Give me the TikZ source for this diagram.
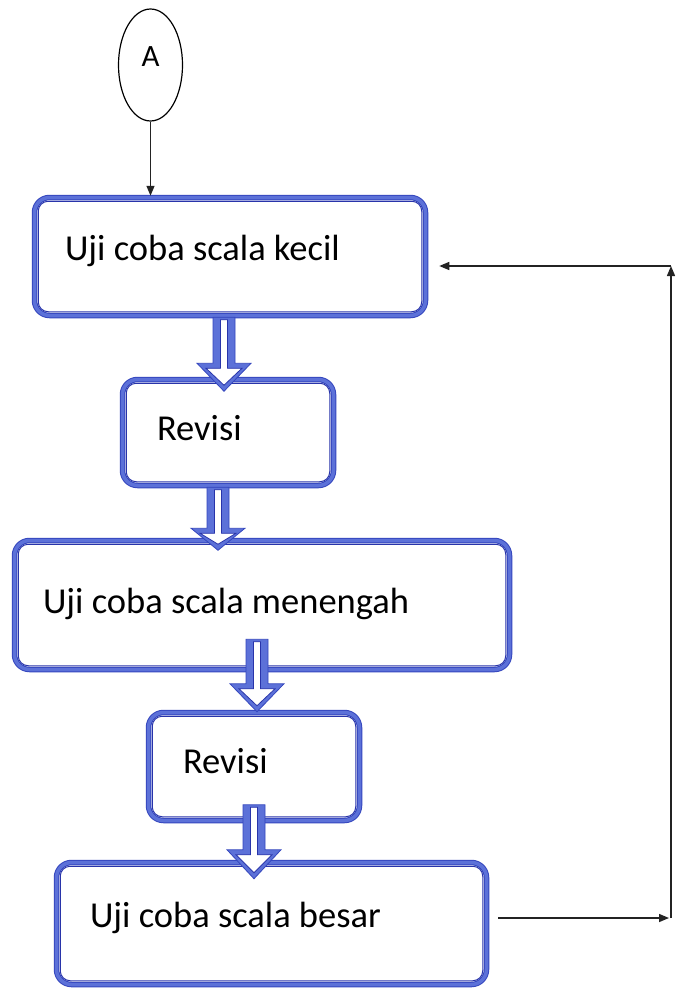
\documentclass[tikz,border=0pt]{standalone}
\usepackage{fontspec}
\setmainfont{Carlito}
\usetikzlibrary{shapes.geometric,arrows.meta,calc}
\definecolor{bandblue}{RGB}{92,113,216}
\definecolor{edgeblue}{RGB}{52,70,190}
\definecolor{innerblue}{RGB}{40,52,170}
\definecolor{conncol}{RGB}{35,35,35}
\newcommand\innerframe[1]{%
  \draw[innerline] ([shift={(5.5,5.5)}]#1.north west) rectangle ([shift={(-5.5,-5.5)}]#1.south east);}
\newcommand\blockarrow[3]{% #1 start coordinate, #2 shaft length, #3 head length
  \begin{scope}[shift={(#1)}]
    \filldraw[barrow] (-11,0) -- (-11,#2) -- (-27,#2) -- (0,#2+#3) -- (27,#2) -- (11,#2) -- (11,0) -- cycle;
    \filldraw[barrowin] (-3.5,2.5) -- (-3.5,#2+5) -- (-18,#2+5) -- (0,#2+#3-6) -- (18,#2+5) -- (3.5,#2+5) -- (3.5,2.5) -- cycle;
  \end{scope}}
\newcommand\boxtext[2]{\makebox[#1][l]{#2}}
\begin{document}
\begin{tikzpicture}[x=1pt,y=-1pt,
  box/.style={draw=bandblue, line width=3.5pt, preaction={draw=edgeblue, line width=5.5pt},
    rounded corners=15pt, font=\fontsize{36.5}{40}\selectfont, text depth=14pt, inner ysep=0pt},
  innerline/.style={draw=innerblue, line width=1pt, rounded corners=10pt},
  barrow/.style={fill=bandblue, draw=edgeblue, line width=0.8pt},
  barrowin/.style={fill=white, draw=innerblue, line width=0.8pt},
  conn/.style={draw=conncol, line width=1.4pt, -{Triangle[length=10pt,width=8pt]}},
  term/.style={ellipse, draw=black, line width=1.2pt, minimum width=64pt, minimum height=112pt,
    inner sep=0pt, font=\fontsize{31}{33}\selectfont, text height=21pt, text depth=19pt}]
\useasboundingbox (0,0) rectangle (675,991);
\fill[white] (0,0) rectangle (675,991);

\node[term] (A) at (150.5,65) {A};

\node[box, minimum width=391pt, minimum height=118pt, inner xsep=30.5pt, text height=21pt]
  (b1) at (230,256.5) {\boxtext{330pt}{Uji coba scala kecil}};
\node[box, minimum width=211pt, minimum height=106pt, inner xsep=34.5pt, text height=29pt]
  (r1) at (228,432.5) {\boxtext{142pt}{Revisi}};
\node[box, minimum width=495pt, minimum height=129pt, inner xsep=28.5pt, text height=30pt]
  (b3) at (262,605) {\boxtext{438pt}{Uji coba scala menengah}};
\node[box, minimum width=211pt, minimum height=108pt, inner xsep=34.5pt, text height=27pt]
  (r2) at (254,766.5) {\boxtext{142pt}{Revisi}};
\node[box, minimum width=430pt, minimum height=122pt, inner xsep=33.5pt, text height=21pt]
  (b5) at (271.5,923.5) {\boxtext{363pt}{Uji coba scala besar}};

\innerframe{b1}
\innerframe{r1}
\innerframe{b3}
\innerframe{r2}
\innerframe{b5}

\coordinate (s1) at ([shift={(-6,0)}]b1.south);
\coordinate (s2) at ([shift={(-10,0)}]r1.south);
\coordinate (s3) at ([shift={(-5,-32)}]b3.south);
\coordinate (s4) at ([shift={(0,-17.5)}]r2.south);
\blockarrow{s1}{46}{28}
\blockarrow{s2}{41}{22}
\blockarrow{s3}{44.5}{28}
\blockarrow{s4}{45}{29}

\draw[conn] (A.south) -- (A.south |- b1.north);

\coordinate (fbB) at (671,918);
\coordinate (fbT) at (671,266);
\draw[conn, shorten >=2pt] ([shift={(10,-5.5)}]b5.east) -- (fbB);
\draw[conn] (fbB) -- (fbT);
\draw[conn, shorten >=12pt] (fbT) -- (fbT -| b1.east);
\end{tikzpicture}
\end{document}
